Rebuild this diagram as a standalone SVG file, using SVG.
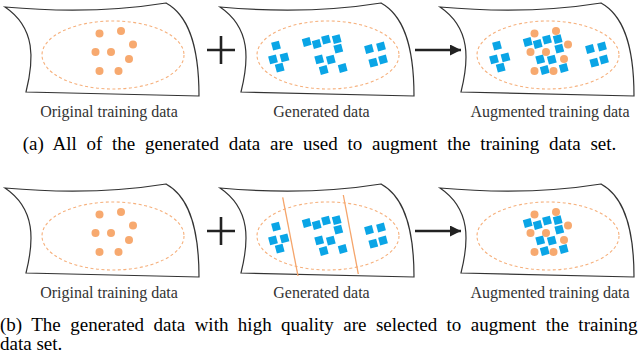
<svg xmlns="http://www.w3.org/2000/svg" xmlns:xlink="http://www.w3.org/1999/xlink" width="640" height="357" viewBox="0 0 640 357">
<style>
.sheet{fill:#fff;stroke:#333;stroke-width:1.2}
.ell{fill:none;stroke:#f6b07c;stroke-width:1.1;stroke-dasharray:3 2.5}
.dot{fill:#f7a96f}
.sq{fill:#0aa5e6}
.lbl{font-family:"Liberation Serif","Times New Roman",serif;font-size:16px;fill:#333;text-anchor:middle}
.cap{font-family:"Liberation Serif","Times New Roman",serif;font-size:19px;fill:#000}
.op{stroke:#222;stroke-width:2.6;fill:none}
.sel{stroke:#f5a56b;stroke-width:1.3}
</style>
<defs>
<path id="sheetp" d="M5,7 C50,11 110,12 166,3 C186,14 199,40 199,96 L26,92 C34,60 36,28 5,7 Z"/>
<rect id="s" x="-4" y="-4" width="8" height="8" transform="rotate(-15)"/>
<circle id="d" r="4"/>
<g id="dots" class="dot">
<use xlink:href="#d" x="99.5" y="33.5"/><use xlink:href="#d" x="121" y="31"/><use xlink:href="#d" x="133" y="44.5"/>
<use xlink:href="#d" x="95.5" y="52"/><use xlink:href="#d" x="111" y="52"/><use xlink:href="#d" x="129" y="59"/>
<use xlink:href="#d" x="99.5" y="71"/><use xlink:href="#d" x="118.5" y="71"/>
</g>
<g id="sqL" class="sq">
<use xlink:href="#s" x="276" y="45.7"/><use xlink:href="#s" x="273" y="59.3"/><use xlink:href="#s" x="284.5" y="57.3"/><use xlink:href="#s" x="279.7" y="67.7"/>
</g>
<g id="sqM" class="sq">
<use xlink:href="#s" x="306.7" y="42"/><use xlink:href="#s" x="316.7" y="44"/><use xlink:href="#s" x="326" y="39.7"/><use xlink:href="#s" x="336.7" y="39.2"/>
<use xlink:href="#s" x="338.3" y="48.7"/><use xlink:href="#s" x="319.2" y="59.3"/><use xlink:href="#s" x="330.8" y="59.6"/>
<use xlink:href="#s" x="323.7" y="70"/><use xlink:href="#s" x="342.7" y="68"/>
</g>
<g id="sqR" class="sq">
<use xlink:href="#s" x="369" y="49"/><use xlink:href="#s" x="381" y="46.5"/><use xlink:href="#s" x="373.3" y="62.7"/><use xlink:href="#s" x="383" y="59.5"/>
</g>
<marker id="ah" markerWidth="11" markerHeight="11" refX="11" refY="5.5" orient="auto" markerUnits="userSpaceOnUse">
<path d="M0,0 L11,5.5 L0,11 Z" fill="#222"/>
</marker>
</defs>

<!-- Row (a) -->
<g id="a-original">
<use xlink:href="#sheetp" class="sheet"/>
<ellipse class="ell" cx="113" cy="55" rx="71" ry="34"/>
<use xlink:href="#dots"/>
<text class="lbl" x="109" y="117">Original training data</text>
</g>
<g id="a-generated">
<use xlink:href="#sheetp" class="sheet" transform="translate(215,0)"/>
<ellipse class="ell" cx="328" cy="55" rx="71" ry="34"/>
<use xlink:href="#sqL"/><use xlink:href="#sqM"/><use xlink:href="#sqR"/>
<text class="lbl" x="321.5" y="117">Generated data</text>
</g>
<g id="a-augmented">
<use xlink:href="#sheetp" class="sheet" transform="translate(435,0)"/>
<ellipse class="ell" cx="548" cy="55" rx="71" ry="34"/>
<g transform="translate(221,0)"><use xlink:href="#sqL"/><use xlink:href="#sqM"/><use xlink:href="#sqR"/></g>
<use xlink:href="#dots" transform="translate(435,0)"/>
<text class="lbl" x="550" y="117">Augmented training data</text>
</g>
<text class="cap" x="319.5" y="150" text-anchor="middle" word-spacing="5">(a) All of the generated data are used to augment the training data set.</text>

<!-- Row (b) -->
<g id="b-original">
<use xlink:href="#sheetp" class="sheet" transform="translate(0,181)"/>
<ellipse class="ell" cx="113" cy="236" rx="71" ry="34"/>
<use xlink:href="#dots" transform="translate(0,181)"/>
<text class="lbl" x="109" y="298">Original training data</text>
</g>
<g id="b-generated">
<use xlink:href="#sheetp" class="sheet" transform="translate(215,181)"/>
<ellipse class="ell" cx="328" cy="236" rx="71" ry="34"/>
<g transform="translate(0,181)"><use xlink:href="#sqL"/><use xlink:href="#sqM"/><use xlink:href="#sqR"/></g>
<line class="sel" x1="282.7" y1="197.3" x2="298" y2="276"/>
<line class="sel" x1="343.3" y1="195" x2="358.3" y2="274"/>
<text class="lbl" x="321.5" y="298">Generated data</text>
</g>
<g id="b-augmented">
<use xlink:href="#sheetp" class="sheet" transform="translate(435,181)"/>
<ellipse class="ell" cx="548" cy="236" rx="71" ry="34"/>
<g transform="translate(221,181)"><use xlink:href="#sqM"/></g>
<use xlink:href="#dots" transform="translate(435,181)"/>
<text class="lbl" x="550" y="298">Augmented training data</text>
</g>
<text class="cap" x="0" y="331" word-spacing="4.7">(b) The generated data with high quality are selected to augment the training</text>
<text class="cap" x="0" y="350">data set.</text>

<!-- Connectors / operators -->
<g id="connectors">
<path class="op" d="M207,50 H235 M221,36 V64"/>
<path class="op" d="M207,231 H235 M221,217 V245"/>
<line x1="415" y1="50" x2="461" y2="50" stroke="#222" stroke-width="2.6" marker-end="url(#ah)"/>
<line x1="415" y1="231" x2="461" y2="231" stroke="#222" stroke-width="2.6" marker-end="url(#ah)"/>
</g>
</svg>
